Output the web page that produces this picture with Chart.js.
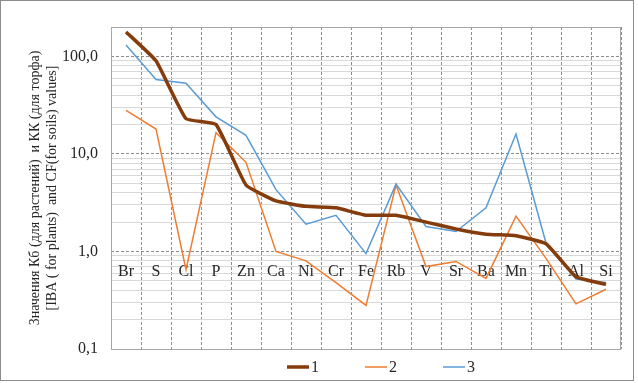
<!DOCTYPE html>
<html>
<head>
<meta charset="utf-8">
<script src="https://cdn.jsdelivr.net/npm/chart.js@4"></script>
<style>
  body { margin: 0; background: #fff; }
  #wrap { position: relative; width: 638px; height: 383px; }
  #frame { position: absolute; left: 0; top: 0; width: 632px; height: 379px; border: 1px solid #8c8c8c; pointer-events: none; }
</style>
</head>
<body>
<div id="wrap">
  <canvas id="chart" width="638" height="383"></canvas>
  <div id="frame"></div>
</div>
<script>
// категории (элементы)
const categories = ['Br', 'S', 'Cl', 'P', 'Zn', 'Ca', 'Ni', 'Cr', 'Fe', 'Rb', 'V', 'Sr', 'Ba', 'Mn', 'Ti', 'Al', 'Si'];

// ряды значений
const series1 = [178, 90, 23, 20, 4.8, 3.3, 2.9, 2.8, 2.35, 2.35, 2.0, 1.7, 1.5, 1.45, 1.2, 0.55, 0.46];
const series2 = [28, 18, 0.65, 16.5, 8.2, 1.0, 0.8, 0.48, 0.28, 4.8, 0.7, 0.79, 0.53, 2.3, 0.85, 0.29, 0.41];
const series3 = [131, 58, 53, 24, 15.5, 4.3, 1.9, 2.35, 0.95, 4.9, 1.8, 1.6, 2.8, 16, 1.22, 0.52, 0.48];
const seriesNames = ['1', '2', '3'];

// деления оси Y
const majorTicks = [0.1, 1, 10, 100];
const minorTicks = [0.2, 0.3, 0.4, 0.5, 0.6, 0.7, 0.8, 0.9, 2, 3, 4, 5, 6, 7, 8, 9, 20, 30, 40, 50, 60, 70, 80, 90];
const yMin = 0.1;
const yMax = 200;

const serif = "'Liberation Serif', 'Times New Roman', serif";

// подписи категорий внутри области графика (ось пересекает на 1,0)
const categoryLabels = {
    id: 'categoryLabels',
    beforeDatasetsDraw(chart) {
        const ctx = chart.ctx;
        const x = chart.scales.x;
        const y = chart.scales.y;
        const area = chart.chartArea;
        ctx.save();
        // рамка области построения
        ctx.strokeStyle = '#a6a6a6';
        ctx.lineWidth = 1;
        ctx.strokeRect(Math.round(area.left) + 0.5, Math.round(area.top) + 0.5,
            Math.round(area.right - area.left) - 1, Math.round(area.bottom - area.top));
        ctx.font = '16px ' + serif;
        ctx.fillStyle = '#262626';
        ctx.textAlign = 'center';
        ctx.textBaseline = 'middle';
        const yPos = y.getPixelForValue(1) + 20;
        categories.forEach((c, i) => {
            ctx.fillText(c, x.getPixelForValue(i), yPos);
        });
        ctx.restore();
    }
};

// легенда снизу
const bottomLegend = {
    id: 'bottomLegend',
    afterDraw(chart) {
        const ctx = chart.ctx;
        const area = chart.chartArea;
        const mid = (area.left + area.right) / 2;
        const yPos = 367;
        ctx.save();
        ctx.font = '16px ' + serif;
        ctx.textBaseline = 'middle';
        ctx.textAlign = 'left';
        chart.data.datasets.forEach((ds, i) => {
            const x0 = mid - 79 + i * 78;
            ctx.strokeStyle = ds.borderColor;
            ctx.lineWidth = ds.borderWidth;
            ctx.beginPath();
            ctx.moveTo(x0, yPos);
            ctx.lineTo(x0 + 22, yPos);
            ctx.stroke();
            ctx.fillStyle = '#262626';
            ctx.fillText(ds.label, x0 + 24, yPos + 1);
        });
        ctx.restore();
    }
};

const ctx = document.getElementById('chart').getContext('2d');
const chart = new Chart(ctx, {
    type: 'line',
    data: {
        labels: categories,
        datasets: [
            {
                label: seriesNames[0],
                data: series1,
                borderColor: '#843c0c',
                borderWidth: 3.5,
                tension: 0.12,
                pointRadius: 0,
                order: 0
            },
            {
                label: seriesNames[1],
                data: series2,
                borderColor: '#ed7d31',
                borderWidth: 1.5,
                tension: 0,
                pointRadius: 0,
                order: 2
            },
            {
                label: seriesNames[2],
                data: series3,
                borderColor: '#5b9bd5',
                borderWidth: 1.5,
                tension: 0,
                pointRadius: 0,
                order: 1
            }
        ]
    },
    options: {
        responsive: false,
        animation: false,
        layout: { padding: { top: 27, right: 17, bottom: 34, left: 0 } },
        plugins: {
            legend: { display: false },
            tooltip: { enabled: false }
        },
        scales: {
            x: {
                type: 'category',
                offset: true,
                grid: {
                    offset: true,
                    color: '#8c8c8c',
                    lineWidth: 1,
                    drawTicks: false
                },
                border: { display: false, dash: [3, 2] },
                ticks: { display: false },
                afterFit(scale) { scale.height = 0; }
            },
            yMinor: {
                type: 'logarithmic',
                position: 'left',
                min: yMin,
                max: yMax,
                grid: { color: '#d9d9d9', lineWidth: 1, drawTicks: false },
                border: { display: false },
                ticks: { display: false },
                afterBuildTicks(scale) {
                    scale.ticks = minorTicks.map(v => ({ value: v }));
                },
                afterFit(scale) { scale.width = 0; }
            },
            y: {
                type: 'logarithmic',
                position: 'left',
                min: yMin,
                max: yMax,
                grid: { color: '#8c8c8c', lineWidth: 1, drawTicks: false },
                border: { display: false, dash: [3, 2] },
                afterBuildTicks(scale) {
                    scale.ticks = majorTicks.map(v => ({ value: v }));
                },
                ticks: {
                    padding: 13,
                    color: '#262626',
                    font: { family: serif, size: 16 },
                    callback: (v) => Number(v).toFixed(1).replace('.', ',')
                },
                title: {
                    display: true,
                    text: ['Значения Кб (для растений)  и КК (для торфа)', '[IBA ( for plants)  and CF(for soils) values]'],
                    color: '#262626',
                    font: { family: serif, size: 14, lineHeight: 1.2 },
                    padding: { top: 27, bottom: 0 }
                },
                afterFit(scale) { scale.width = 111; }
            }
        }
    },
    plugins: [categoryLabels, bottomLegend]
});
</script>
</body>
</html>
